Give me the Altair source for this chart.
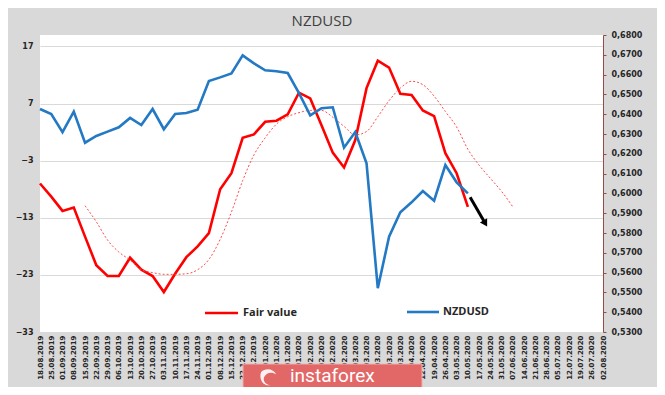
import json
import altair as alt
import pandas as pd

# ---- data -------------------------------------------------------------
dates = ["18.08.2019", "25.08.2019", "01.09.2019", "08.09.2019", "15.09.2019", "22.09.2019",
         "29.09.2019", "06.10.2019", "13.10.2019", "20.10.2019", "27.10.2019", "03.11.2019",
         "10.11.2019", "17.11.2019", "24.11.2019", "01.12.2019", "08.12.2019", "15.12.2019",
         "22.12.2019", "29.12.2019", "05.01.2020", "12.01.2020", "19.01.2020", "26.01.2020",
         "02.02.2020", "09.02.2020", "16.02.2020", "23.02.2020", "01.03.2020", "08.03.2020",
         "15.03.2020", "22.03.2020", "29.03.2020", "05.04.2020", "12.04.2020", "19.04.2020",
         "26.04.2020", "03.05.2020", "10.05.2020", "17.05.2020", "24.05.2020", "31.05.2020",
         "07.06.2020", "14.06.2020", "21.06.2020", "28.06.2020", "05.07.2020", "12.07.2020",
         "19.07.2020", "26.07.2020", "02.08.2020"]

fair_value = [-7.0, -9.3, -11.8, -11.2, -16.3, -21.3, -23.2, -23.2, -20.0, -22.1, -23.2, -26.0,
              -22.8, -19.9, -18.0, -15.7, -8.0, -5.2, 1.0, 1.6, 3.8, 4.0, 5.1, 8.9, 7.9, 3.2,
              -1.6, -4.2, 0.6, 9.7, 14.5, 13.3, 8.7, 8.5, 5.8, 4.8, -1.7, -5.2, -11.1]

ma_start = 4
fair_value_ma = [-10.9, -13.7, -16.9, -19.0, -20.4, -22.1, -22.6, -22.9, -22.9, -22.8, -22.1,
                 -20.3, -16.8, -12.0, -6.5, -2.0, 1.0, 3.4, 4.7, 5.4, 5.8, 5.8, 4.6, 3.0, 1.5,
                 2.1, 4.7, 7.5, 9.7, 10.9, 10.3, 8.3, 5.6, 2.9, -1.0, -3.8, -6.1, -8.4, -11.1]

nzdusd = [0.6426, 0.6401, 0.6309, 0.6413, 0.6256, 0.6290, 0.6312, 0.6334, 0.6381, 0.6345,
          0.6426, 0.6324, 0.6401, 0.6406, 0.6423, 0.6568, 0.6586, 0.6606, 0.6697, 0.6657,
          0.6622, 0.6617, 0.6608, 0.6506, 0.6394, 0.6430, 0.6435, 0.6231, 0.6310, 0.6152,
          0.5521, 0.5781, 0.5905, 0.5955, 0.6012, 0.5963, 0.6143, 0.6056, 0.6000]

left_ticks = [-33, -23, -13, -3, 7, 17]
right_ticks = [0.53, 0.54, 0.55, 0.56, 0.57, 0.58, 0.59, 0.60, 0.61, 0.62, 0.63, 0.64,
               0.65, 0.66, 0.67, 0.68]

arrow_x = [38.2, 39.55]
arrow_y = [-9.4, -14.0]

# ---- tables -----------------------------------------------------------
df_fv = pd.DataFrame({"i": list(range(len(fair_value))), "v": fair_value})
df_ma = pd.DataFrame({"i": [ma_start + k for k in range(len(fair_value_ma))], "v": fair_value_ma})
df_nz = pd.DataFrame({"i": list(range(len(nzdusd))), "v": nzdusd})
df_arrow = pd.DataFrame({"i": arrow_x, "v": arrow_y})
df_head = df_arrow.tail(1)
one = pd.DataFrame({"k": [0]})

LEFT = alt.Scale(domain=[-33, 19], nice=False, zero=False)
RIGHT = alt.Scale(domain=[0.53, 0.68], nice=False, zero=False)
XS = alt.Scale(domain=[0, 50], nice=False, zero=False)

label_expr = json.dumps(dates).replace('"', "'") + "[datum.value]"

x_axis = alt.Axis(values=list(range(51)), labelExpr=label_expr, labelAngle=270,
                  labelFont="DejaVu Sans", labelFontWeight="bold", labelFontSize=7,
                  labelColor="#262626", labelPadding=3, labelOverlap=False,
                  labelFlush=False, labelBound=False, ticks=False, domain=False,
                  grid=False, title=None)

left_axis = alt.Axis(values=left_ticks, labelFont="DejaVu Sans", labelFontWeight="bold",
                     labelFontSize=8, labelColor="#262626", labelPadding=7, ticks=False,
                     domain=False, grid=True, gridColor="#d9d9d9", gridWidth=1, title=None)

right_axis = alt.Axis(orient="right", values=right_ticks,
                      labelExpr="replace(format(datum.value, '.4f'), '.', ',')",
                      labelFont="DejaVu Sans", labelFontWeight="bold", labelFontSize=8,
                      labelColor="#262626", labelPadding=5, tickSize=3, tickColor="#9a4a45",
                      domain=True, domainColor="#9a4a45", grid=False, title=None)

X = alt.X("i:Q", scale=XS, axis=x_axis)

fv = alt.Chart(df_fv).mark_line(color="#ff0000", strokeWidth=2.6).encode(
    x=X,
    y=alt.Y("v:Q", scale=LEFT, axis=left_axis),
)

ma = alt.Chart(df_ma).mark_line(color="#ff4a4a", strokeWidth=1, strokeDash=[2, 2],
                                interpolate="monotone").encode(
    x=X,
    y=alt.Y("v:Q", scale=LEFT, axis=None),
)

nz = alt.Chart(df_nz).mark_line(color="#2379c3", strokeWidth=2.6).encode(
    x=X,
    y=alt.Y("v:Q", scale=RIGHT, axis=right_axis),
)

arrow = alt.Chart(df_arrow).mark_line(color="#000000", strokeWidth=3).encode(
    x=X,
    y=alt.Y("v:Q", scale=LEFT, axis=None),
)
head = alt.Chart(df_head).mark_point(shape="triangle-up", filled=True, color="#000000",
                                     size=70, angle=150, opacity=1).encode(
    x=X,
    y=alt.Y("v:Q", scale=LEFT, axis=None),
)

# title
title = alt.Chart(one).mark_text(text="NZDUSD", font="Open Sans", fontSize=15,
                                 color="#404040", align="center", baseline="middle").encode(
    x=alt.value(282), y=alt.value(-14))

# legend
leg_red = alt.Chart(one).mark_rule(color="#ff0000", strokeWidth=2.6).encode(
    x=alt.value(165), x2=alt.value(198), y=alt.value(278))
leg_red_t = alt.Chart(one).mark_text(text="Fair value", font="Open Sans", fontWeight="bold",
                                     fontSize=11, color="#262626", align="left",
                                     baseline="middle").encode(
    x=alt.value(203), y=alt.value(278))
leg_blue = alt.Chart(one).mark_rule(color="#2379c3", strokeWidth=2.6).encode(
    x=alt.value(367), x2=alt.value(399), y=alt.value(277))
leg_blue_t = alt.Chart(one).mark_text(text="NZDUSD", font="Open Sans", fontWeight="bold",
                                      fontSize=11, color="#262626", align="left",
                                      baseline="middle").encode(
    x=alt.value(403), y=alt.value(277))

# watermark logo
logo_bg = alt.Chart(one).mark_rect(color="#e26767", stroke="#f2b0b0", strokeWidth=1).encode(
    x=alt.value(203), x2=alt.value(382), y=alt.value(329), y2=alt.value(365))
logo_icon = alt.Chart(one).mark_point(
    shape="M-1,-0.6 C-0.4,-1.2 0.6,-1 0.9,-0.3 C0.4,-0.7 -0.3,-0.6 -0.6,0 C-0.8,0.5 -0.4,1 0.2,1 C-0.6,1.2 -1.3,0.4 -1,-0.6 Z",
    filled=True, color="#ffffff", size=260, opacity=0.9).encode(
    x=alt.value(229), y=alt.value(342))
logo_text = alt.Chart(one).mark_text(text="instaforex", font="Roboto", fontSize=19,
                                     color="#ffffff", align="left", baseline="middle").encode(
    x=alt.value(250), y=alt.value(341))

chart = alt.layer(
    fv, ma, nz, arrow, head, title, leg_red, leg_red_t, leg_blue, leg_blue_t,
    logo_bg, logo_icon, logo_text
).resolve_scale(y="independent").properties(
    width=563, height=297,
    padding={"left": 32, "top": 27, "right": 54, "bottom": 55},
    autosize=alt.AutoSizeParams(type="none"),
    background="#d9d9d9",
).configure_view(stroke=None, fill="#ffffff")

chart.save("out.html", embed_options={"renderer": "svg", "actions": False})
